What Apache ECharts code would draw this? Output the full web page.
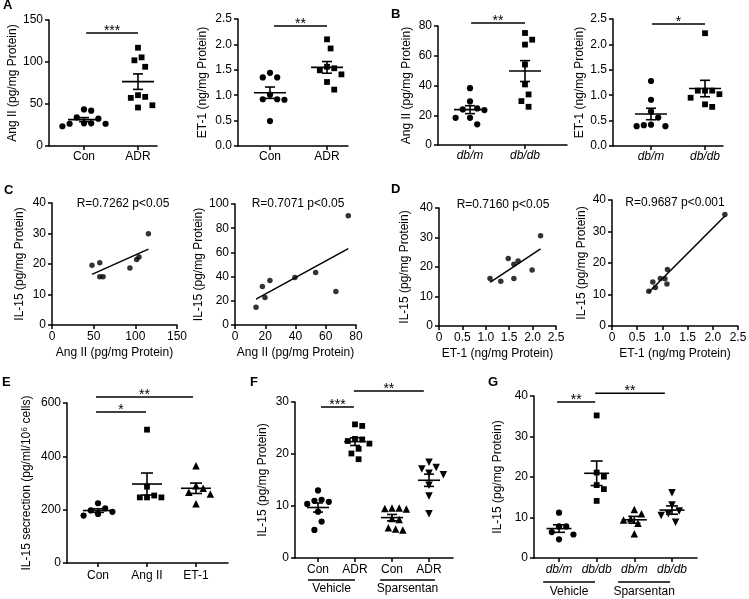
<!DOCTYPE html>
<html><head><meta charset="utf-8">
<script src="https://cdn.jsdelivr.net/npm/echarts@6/dist/echarts.min.js"></script>
<style>html,body{margin:0;padding:0;background:#fff}#c{width:749px;height:599px}</style>
</head><body><div id="c"></div>
<script>
const FONT = '"Liberation Sans", Arial, Helvetica, sans-serif';

// ================= DATA =================
const catsConADR = ['Con', 'ADR'];
const catsDb = ['db/m', 'db/db'];
const catsE = ['Con', 'Ang II', 'ET-1'];
const catsF = ['Con', 'ADR', 'Con', 'ADR'];
const catsG = ['db/m', 'db/db', 'db/m', 'db/db'];
const treatGroups = ['Vehicle', 'Sparsentan'];

// A: Ang II and ET-1 in Con vs ADR
const angIICon = [42, 43.5, 34, 32.5, 27, 26.5, 26.5, 27, 23.5];
const angIIADR = [117, 105.5, 102, 94.3, 60.5, 58.5, 57.3, 48.5, 45.8];
const et1Con = [1.35, 1.44, 1.35, 1.01, 0.92, 0.91, 0.92, 0.49];
const et1ADR = [2.10, 1.92, 1.53, 1.56, 1.49, 1.41, 1.26, 1.11];
// B: db/m vs db/db
const angIIDbm = [38.2, 29.3, 23.5, 23.9, 24.6, 18.3, 18.3, 13.9];
const angIIDbdb = [75.3, 70.8, 67.5, 54.1, 40.7, 34.0, 29.5, 25.7];
const et1Dbm = [1.28, 0.91, 0.68, 0.56, 0.42, 0.41, 0.39, 0.39];
const et1Dbdb = [2.22, 1.09, 1.02, 1.09, 1.09, 0.95, 0.82, 0.77];
// C: IL-15 vs Ang II
const c1AngII = [48, 57.3, 57.3, 61.3, 93.5, 101.6, 104.4, 115.7];
const c1IL15 = [19.6, 20.4, 15.8, 15.8, 18.7, 21.5, 22.3, 29.9];
const c2AngII = [13.9, 18.1, 19.8, 23.1, 39.6, 53.3, 66.7, 74.9];
const c2IL15 = [14.6, 31.8, 22.7, 36.7, 39.2, 43.4, 27.6, 90.3];
// D: IL-15 vs ET-1
const d1ET1 = [1.09, 1.32, 1.48, 1.60, 1.60, 1.69, 1.99, 2.17];
const d1IL15 = [16.1, 15.2, 22.9, 16.1, 20.9, 22.0, 19.0, 30.6];
const d2ET1 = [0.73, 0.81, 0.86, 0.96, 1.05, 1.10, 1.09, 2.24];
const d2IL15 = [11.0, 14.0, 12.2, 15.1, 15.0, 17.9, 13.3, 35.4];
const rTexts = ['R=0.7262 p<0.05', 'R=0.7071 p<0.05', 'R=0.7160 p<0.05', 'R=0.9687 p<0.001'];
// E: IL-15 secretion
const eCon = [205, 197, 224, 192, 184, 178];
const eAngII = [500, 286, 253, 246, 246, 246];
const eET1 = [365, 290, 280, 265, 259, 222];
// F: ADR model, Vehicle / Sparsentan
const fVehCon = [13.0, 10.8, 11.0, 11.2, 10.4, 8.9, 7.0, 5.4];
const fVehADR = [25.7, 25.4, 22.8, 22.9, 22.5, 22.0, 21.0, 20.1, 19.0];
const fSpaCon = [9.6, 9.6, 9.5, 9.4, 7.6, 7.4, 5.8, 5.6, 5.4];
const fSpaADR = [18.4, 16.3, 16.0, 17.1, 17.4, 14.0, 11.9, 8.5];
// G: db model, Vehicle / Sparsentan
const gVehDbm = [11.2, 7.8, 7.8, 6.4, 5.8, 4.6];
const gVehDbdb = [35.2, 21.1, 20.1, 18.0, 17.0, 14.1];
const gSpaDbm = [12.0, 10.9, 9.7, 9.4, 8.6, 6.0];
const gSpaDbdb = [16.1, 13.1, 11.6, 10.9, 10.5, 8.8];

// ================= LAYOUT =================
const UP = 'triangle', DOWN = 'triangleDown';
const panels = [
  {kind:'dot', box:[49,20,157,146], x:[-0.648,1.352], y:[0,150,50], dec:0, cats:catsConADR,
   groups:[[angIICon,'circle'],[angIIADR,'rect']], yName:'Ang II (pg/mg Protein)', gap:28, mh:16, ch:5},
  {kind:'dot', box:[238,19,348,146], x:[-0.561,1.368], y:[0,2.5,0.5], dec:1, cats:catsConADR,
   groups:[[et1Con,'circle'],[et1ADR,'rect']], yName:'ET-1 (ng/mg Protein)', gap:29, mh:16, ch:5},
  {kind:'dot', box:[438,26,567,145], x:[-0.582,1.764], y:[0,80,20], dec:0, cats:catsDb, italic:true,
   groups:[[angIIDbm,'circle'],[angIIDbdb,'rect']], yName:'Ang II (pg/mg Protein)', gap:25, mh:16, ch:5},
  {kind:'dot', box:[613,19,723,146], x:[-0.704,1.333], y:[0,2.5,0.5], dec:1, cats:catsDb, italic:true,
   groups:[[et1Dbm,'circle'],[et1Dbdb,'rect']], yName:'ET-1 (ng/mg Protein)', gap:27, mh:16, ch:5},
  {kind:'cor', box:[52,203,177,325], x:[0,150,50], y:[0,40,10], xd:0, xs:c1AngII, ys:c1IL15,
   xName:'Ang II (pg/mg Protein)', yName:'IL-15 (pg/mg Protein)', gap:26, r:0, rPos:[123,204]},
  {kind:'cor', box:[235,204,356,325], x:[0,80,20], y:[0,100,20], xd:0, xs:c2AngII, ys:c2IL15,
   xName:'Ang II (pg/mg Protein)', yName:'IL-15 (pg/mg Protein)', gap:14, r:1, rPos:[298,204]},
  {kind:'cor', box:[439,208,556,326], x:[0,2.5,0.5], y:[0,40,10], xd:1, xs:d1ET1, ys:d1IL15,
   xName:'ET-1 (ng/mg Protein)', yName:'IL-15 (pg/mg Protein)', gap:28, r:2, rPos:[503,205]},
  {kind:'cor', box:[612,200,738,326], x:[0,2.5,0.5], y:[0,40,10], xd:1, xs:d2ET1, ys:d2IL15,
   xName:'ET-1 (ng/mg Protein)', yName:'IL-15 (pg/mg Protein)', gap:24, r:3, rPos:[675,203]},
  {kind:'dot', box:[67,403,228,563], x:[-0.633,2.653], y:[0,600,200], dec:0, cats:catsE, lm:7,
   groups:[[eCon,'circle'],[eAngII,'rect'],[eET1,UP]], yName:'IL-15 secrection (pg/ml/10\u2076 cells)', gap:34, mh:15, ch:6},
  {kind:'dot', box:[295,402,453,558], x:[-0.622,3.649], y:[0,30,10], dec:0, cats:catsF, lm:6,
   groups:[[fVehCon,'circle'],[fVehADR,'rect'],[fSpaCon,UP],[fSpaADR,DOWN]], yName:'IL-15 (pg/mg Protein)', gap:26, mh:11, ch:5,
   under:{labels:treatGroups, spans:[[-0.27,1.0],[1.68,3.16]], lineDy:22, textDy:31}},
  {kind:'dot', box:[534,396,697,558], x:[-0.664,3.664], y:[0,40,10], dec:0, cats:catsG, italic:true, lm:6,
   groups:[[gVehDbm,'circle'],[gVehDbdb,'rect'],[gSpaDbm,UP],[gSpaDbdb,DOWN]], yName:'IL-15 (pg/mg Protein)', gap:30, mh:12.5, ch:6,
   under:{labels:treatGroups, spans:[[-0.42,0.956],[1.57,2.95]], lineDy:24, textDy:34}}
];
// significance bars: panel index, x from, x to, y (data units), label
const sigBars = [
  [0, 0.04, 1.0, 134.5, '***'], [1, 0.07, 1.0, 2.362, '**'], [2, 0.02, 1.0, 82.0, '**'], [3, 0.02, 1.0, 2.40, '*'],
  [8, -0.04, 1.94, 622.5, '**'], [8, -0.04, 0.98, 566, '*'],
  [9, 0.08, 0.97, 29.04, '***'], [9, 0.97, 2.86, 32.1, '**'],
  [10, -0.05, 0.96, 38.5, '**'], [10, 0.96, 2.81, 40.7, '**']
];
const letters = [['A',3,-1],['B',391,8],['C',4,184],['D',391,183],['E',2,376],['F',250,376],['G',488,376]];

// ================= HELPERS =================
const black = '#000';
function mean(a){ return a.reduce((s,v)=>s+v,0)/a.length; }
function sem(a){ const m=mean(a); const v=a.reduce((s,x)=>s+(x-m)*(x-m),0)/(a.length-1); return Math.sqrt(v/a.length); }
// beeswarm layout of dot-plot points (elliptical collision: wider vertically)
function swarm(vals, ppx, ppy, size){
  const order = vals.map((v,i)=>i).sort((a,b)=>vals[b]-vals[a]);
  const placed = [], off = new Array(vals.length).fill(0);
  const Dx = size*1.2, Dy = size*1.7, h = size*0.6;
  for (const i of order){
    const y = vals[i]*ppy;
    for (let k=0;k<60;k++){
      const m = k===0 ? 0 : (k%2 ? Math.ceil(k/2) : -k/2);
      const x = m*h;
      if (placed.every(p=>{ const dx=(p[0]-x)/Dx, dy=(p[1]-y)/Dy; return dx*dx+dy*dy >= 1; })){
        placed.push([x,y]); off[i]=x/ppx; break;
      }
    }
  }
  return off;
}
function fmt(dec, plainZero){ return v => (plainZero && Math.abs(v)<1e-9) ? '0' : (dec ? (+v).toFixed(dec) : String(Math.round(v))); }
function linreg(xs, ys){
  const mx=mean(xs), my=mean(ys); let sxy=0,sxx=0;
  xs.forEach((x,i)=>{ sxy+=(x-mx)*(ys[i]-my); sxx+=(x-mx)*(x-mx); });
  const b=sxy/sxx; return [my-b*mx, b];
}

// ================= OPTION =================
const grid=[], xAxis=[], yAxis=[], series=[];
const axisLine = {show:true, onZero:false, lineStyle:{color:black, width:1.5}};
const axisTick = {show:true, inside:false, length:4, lineStyle:{color:black, width:1.5}};
const lblStyle = {color:black, fontSize:12, fontFamily:FONT};

panels.forEach((p,i)=>{
  const [l,t,r,b] = p.box;
  grid.push({left:l, top:t, width:r-l, height:b-t, containLabel:false, outerBoundsMode:'none'});
  yAxis.push({type:'value', gridIndex:i, min:p.y[0], max:p.y[1], interval:p.y[2],
    axisLine, axisTick, splitLine:{show:false},
    axisLabel:Object.assign({margin:6, formatter:fmt(p.dec||0,false)}, lblStyle),
    name:p.yName, nameLocation:'middle', nameGap:p.gap, nameRotate:90,
    nameTextStyle:{color:black, fontSize:12, fontFamily:FONT}});
  if (p.kind==='dot'){
    const idx = p.cats.map((c,k)=>k);
    xAxis.push({type:'value', gridIndex:i, min:p.x[0], max:p.x[1],
      axisLine, axisTick:Object.assign({customValues:idx}, axisTick), splitLine:{show:false},
      axisLabel:Object.assign({customValues:idx, margin:p.lm||5, fontStyle:p.italic?'italic':'normal',
        formatter:v=>p.cats[Math.round(v)]||''}, lblStyle)});
    const ppx = (r-l)/(p.x[1]-p.x[0]), ppy = (b-t)/(p.y[1]-p.y[0]);
    const stats = [];
    p.groups.forEach(([vals, sym], gi)=>{
      const isTri = sym===UP || sym===DOWN;
      const size = isTri ? 7.5 : (sym==='rect' ? 5.8 : 6.2);
      const off = swarm(vals, ppx, ppy, 6);
      series.push({type:'scatter', xAxisIndex:i, yAxisIndex:i, silent:true,
        symbol: isTri ? 'triangle' : sym, symbolRotate: sym===DOWN ? 180 : 0, symbolSize:size,
        itemStyle:{color:black, opacity:1}, data: vals.map((v,j)=>[gi+off[j], v])});
      stats.push([gi, mean(vals), sem(vals)]);
    });
    const mh=p.mh, ch=p.ch;
    series.push({type:'custom', xAxisIndex:i, yAxisIndex:i, silent:true, z:5, clip:false,
      encode:{x:0, y:1}, data:stats,
      renderItem:(params, api)=>{
        const x=api.value(0), m=api.value(1), s=api.value(2);
        const c=api.coord([x,m]), hi=api.coord([x,m+s]), lo=api.coord([x,m-s]);
        const st={stroke:black, lineWidth:1.6};
        return {type:'group', children:[
          {type:'line', shape:{x1:c[0]-mh,y1:c[1],x2:c[0]+mh,y2:c[1]}, style:st},
          {type:'line', shape:{x1:c[0],y1:hi[1],x2:c[0],y2:lo[1]}, style:st},
          {type:'line', shape:{x1:c[0]-ch,y1:hi[1],x2:c[0]+ch,y2:hi[1]}, style:st},
          {type:'line', shape:{x1:c[0]-ch,y1:lo[1],x2:c[0]+ch,y2:lo[1]}, style:st}
        ]};
      }});
  } else {
    xAxis.push({type:'value', gridIndex:i, min:p.x[0], max:p.x[1], interval:p.x[2],
      axisLine, axisTick, splitLine:{show:false},
      axisLabel:Object.assign({margin:6, formatter:fmt(p.xd, true)}, lblStyle),
      name:p.xName, nameLocation:'middle', nameGap:22,
      nameTextStyle:{color:black, fontSize:12, fontFamily:FONT}});
    series.push({type:'scatter', xAxisIndex:i, yAxisIndex:i, silent:true, symbol:'circle', symbolSize:5.5,
      itemStyle:{color:black}, data:p.xs.map((x,j)=>[x, p.ys[j]])});
    const [a,bb] = linreg(p.xs, p.ys);
    const x0 = Math.min(...p.xs), x1 = Math.max(...p.xs);
    series.push({type:'line', xAxisIndex:i, yAxisIndex:i, silent:true, showSymbol:false, symbol:'none',
      lineStyle:{color:black, width:1.5}, data:[[x0, a+bb*x0],[x1, a+bb*x1]]});
  }
});

const chart = echarts.init(document.getElementById('c'), null, {renderer:'canvas'});
chart.setOption({animation:false, backgroundColor:'#fff', grid, xAxis, yAxis, series});

// ================= ANNOTATIONS =================
const g = [];
const P = (i, x, y) => chart.convertToPixel({xAxisIndex:i, yAxisIndex:i}, [x, y]);
const line = (x1,y1,x2,y2) => g.push({type:'line', z:10, silent:true, shape:{x1,y1,x2,y2}, style:{stroke:black, lineWidth:1.5}});
const text = (x,y,s,extra) => g.push({type:'text', z:10, silent:true, x, y,
  style:Object.assign({text:s, fill:black, fontSize:12, fontFamily:FONT, align:'center', verticalAlign:'middle'}, extra||{})});

sigBars.forEach(([i,xa,xb,yv,lab])=>{
  const a = P(i,xa,yv), b = P(i,xb,yv);
  line(a[0], a[1], b[0], b[1]);
  text((a[0]+b[0])/2, a[1]-2, lab, {fontSize:14});
});
panels.forEach((p,i)=>{
  if (p.kind==='cor') text(p.rPos[0], p.rPos[1], rTexts[p.r]);
  if (p.under){
    const base = p.box[3];
    p.under.spans.forEach((sp,k)=>{
      const a = P(i, sp[0], 0), b = P(i, sp[1], 0);
      line(a[0], base+p.under.lineDy, b[0], base+p.under.lineDy);
      text((a[0]+b[0])/2, base+p.under.textDy, p.under.labels[k]);
    });
  }
});
letters.forEach(([s,x,y])=>text(x,y,s,{fontSize:13, fontWeight:'bold', align:'left', verticalAlign:'top'}));
chart.setOption({graphic:g});
</script>
</body></html>
